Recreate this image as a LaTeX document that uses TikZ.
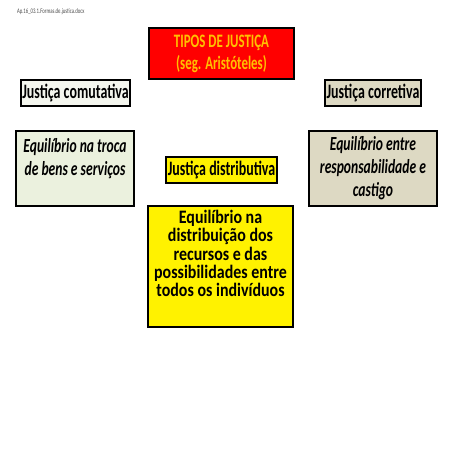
\documentclass[tikz,border=0pt]{standalone}
\usepackage{fontspec}
\setmainfont{Carlito}
\newfontfamily\slidefont[FakeStretch=0.68]{Carlito}
\newfontfamily\widefont[FakeStretch=0.84]{Carlito}
\definecolor{titlered}{HTML}{FF0000}
\definecolor{titlegold}{HTML}{FFC000}
\definecolor{palegreen}{HTML}{EBF1DE}
\definecolor{palelight}{HTML}{F4F6EE}
\definecolor{paletan}{HTML}{DDD9C3}
\definecolor{docgray}{HTML}{4D4D4D}
\tikzset{
  kindbox/.style={draw=black,line width=1.4pt,inner sep=0pt,align=center,font=\slidefont\bfseries\fontsize{20.5}{22}\selectfont},
  ideabox/.style={kindbox,font=\slidefont\bfseries\itshape\fontsize{20}{23}\selectfont},
  ideatext/.style={align=center,inner sep=0pt},
}
\begin{document}
\begin{tikzpicture}[y=1pt, x=1pt, yscale=-1, inner sep=0pt, outer sep=0pt]
\useasboundingbox (0,0) rectangle (453,453);
\fill[white] (0,0) rectangle (453,453);
\node[anchor=west,text=docgray,font=\slidefont\fontsize{7}{8}\selectfont] (doc) at (17,12) {Ap.16\_03.1.Formas.de.justica.docx};
% title
\node[kindbox,fill=titlered,text=titlegold,minimum width=145pt,minimum height=51pt,font=\slidefont\bfseries\fontsize{19}{22}\selectfont] (tipos) at (221.5,53.5) {TIPOS DE JUSTIÇA\\(seg. Aristóteles)};
% the three kinds
\node[kindbox,fill=palelight,minimum width=109pt,minimum height=26pt] (comut) at (75.5,93) {Justiça comutativa};
\node[kindbox,fill=paletan,minimum width=96pt,minimum height=26pt] (corret) at (373,93) {Justiça corretiva};
\node[kindbox,fill=yellow,minimum width=111pt,minimum height=26pt] (distrib) at (221.5,170) {Justiça distributiva};
% what each one balances
\node[ideabox,fill=palegreen,minimum width=118pt,minimum height=75pt] (troca) at (75,168.5) {};
\node[ideatext,font=\slidefont\bfseries\itshape\fontsize{20}{23}\selectfont] (trocatxt) at ([yshift=-10pt]troca.center) {Equilíbrio na troca\\de bens e serviços};
\node[ideabox,fill=paletan,minimum width=128pt,minimum height=75pt] (castigo) at (373,168.5) {Equilíbrio entre\\responsabilidade e\\castigo};
\node[kindbox,fill=yellow,minimum width=145pt,minimum height=121pt] (recursos) at (220.5,266.5) {};
\node[ideatext,font=\widefont\bfseries\fontsize{19}{18.3}\selectfont] (recursostxt) at ([yshift=-13pt]recursos.center) {Equilíbrio na\\distribuição dos\\recursos e das\\possibilidades entre\\todos os indivíduos};
\end{tikzpicture}
\end{document}
